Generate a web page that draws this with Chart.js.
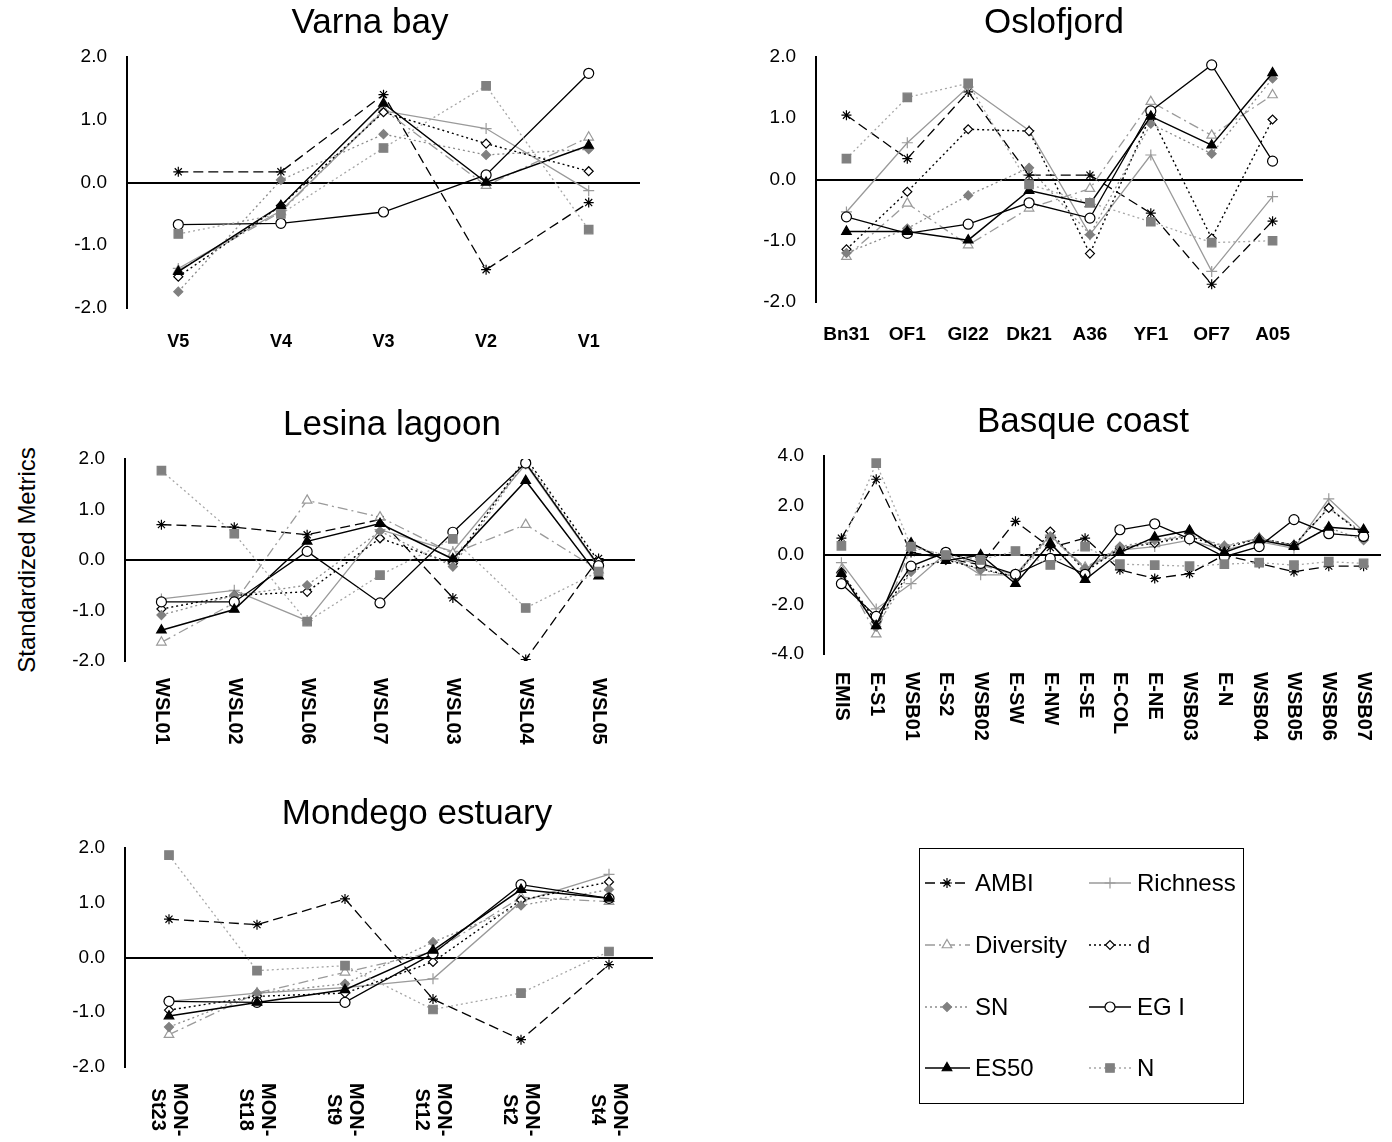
<!DOCTYPE html>
<html>
<head>
<meta charset="utf-8">
<script src="https://cdn.jsdelivr.net/npm/chart.js@4.4.1/dist/chart.umd.min.js"></script>
<style>
  body { margin: 0; width: 1392px; height: 1142px; overflow: hidden; background: #fff; position: relative; }
  canvas { position: absolute; }
  #ytitle {
    position: absolute; left: -122px; top: 545px; width: 300px; height: 30px; line-height: 30px;
    text-align: center; font: 24px "Liberation Sans", Arial, sans-serif; color: #000;
    transform: rotate(-90deg);
  }
</style>
</head>
<body>
<div id="ytitle">Standardized Metrics</div>
<canvas id="varna" width="660" height="360" style="left:40px;top:0px"></canvas>
<canvas id="oslo" width="618" height="360" style="left:745px;top:0px"></canvas>
<canvas id="lesina" width="704" height="370" style="left:40px;top:402px"></canvas>
<canvas id="basque" width="666" height="370" style="left:750px;top:399px"></canvas>
<canvas id="mondego" width="754" height="351" style="left:40px;top:791px"></canvas>
<canvas id="legend" width="330" height="262" style="left:917px;top:845px"></canvas>
<script>
const FONT = '"Liberation Sans", Arial, sans-serif';

// series in legend order
const seriesNames = ['AMBI', 'Richness', 'Diversity', 'd', 'SN', 'EG I', 'ES50', 'N'];

// Varna bay
const varnaStations = ['V5', 'V4', 'V3', 'V2', 'V1'];
const varnaAMBI = [0.17, 0.17, 1.40, -1.39, -0.32];
const varnaRichness = [-1.37, -0.45, 1.14, 0.86, -0.13];
const varnaDiversity = [-1.40, -0.47, 1.16, -0.05, 0.72];
const varnaD = [-1.50, -0.37, 1.12, 0.62, 0.18];
const varnaSN = [-1.74, 0.04, 0.77, 0.44, 0.53];
const varnaEGI = [-0.67, -0.65, -0.47, 0.12, 1.74];
const varnaES50 = [-1.42, -0.37, 1.26, 0.00, 0.59];
const varnaN = [-0.82, -0.50, 0.55, 1.54, -0.75];

// Oslofjord
const osloStations = ['Bn31', 'OF1', 'Gl22', 'Dk21', 'A36', 'YF1', 'OF7', 'A05'];
const osloAMBI = [1.05, 0.34, 1.43, 0.07, 0.07, -0.55, -1.71, -0.68];
const osloRichness = [-0.53, 0.60, 1.51, 0.80, -0.90, 0.40, -1.50, -0.28];
const osloDiversity = [-1.26, -0.39, -1.07, -0.47, -0.15, 1.27, 0.72, 1.38];
const osloD = [-1.14, -0.20, 0.82, 0.79, -1.21, 1.05, -0.96, 0.98];
const osloSN = [-1.20, -0.80, -0.26, 0.19, -0.90, 0.91, 0.42, 1.65];
const osloEGI = [-0.61, -0.88, -0.73, -0.38, -0.63, 1.12, 1.87, 0.30];
const osloES50 = [-0.85, -0.85, -0.99, -0.18, -0.40, 1.03, 0.56, 1.74];
const osloN = [0.34, 1.34, 1.57, -0.08, -0.38, -0.69, -1.03, -1.00];

// Lesina lagoon
const lesinaStations = ['WSL01', 'WSL02', 'WSL06', 'WSL07', 'WSL03', 'WSL04', 'WSL05'];
const lesinaAMBI = [0.70, 0.65, 0.50, 0.80, -0.75, -1.97, 0.03];
const lesinaRichness = [-0.77, -0.60, -1.20, 0.60, 0.17, 1.90, -0.13];
const lesinaDiversity = [-1.63, -0.85, 1.18, 0.85, 0.13, 0.70, -0.20];
const lesinaD = [-0.97, -0.70, -0.63, 0.43, -0.07, 2.03, -0.03];
const lesinaSN = [-1.09, -0.70, -0.50, 0.57, -0.13, 1.97, -0.10];
const lesinaEGI = [-0.83, -0.83, 0.17, -0.85, 0.55, 1.92, -0.11];
const lesinaES50 = [-1.39, -0.98, 0.37, 0.72, 0.02, 1.57, -0.32];
const lesinaN = [1.77, 0.52, -1.22, -0.30, 0.42, -0.95, -0.23];

// Basque coast
const basqueStations = ['EMIS', 'E-S1', 'WSB01', 'E-S2', 'WSB02', 'E-SW', 'E-NW', 'E-SE',
  'E-COL', 'E-NE', 'WSB03', 'E-N', 'WSB04', 'WSB05', 'WSB06', 'WSB07'];
const basqueAMBI = [0.68, 3.06, 0.10, -0.13, -0.40, 1.36, 0.30, 0.68, -0.60, -0.95, -0.75, 0.00, -0.34, -0.68, -0.45, -0.45];
const basqueRichness = [-0.31, -2.18, -1.16, 0.07, -0.80, -0.80, 0.80, -0.55, 0.20, 0.34, 0.60, 0.20, 0.54, 0.27, 2.27, 0.95];
const basqueDiversity = [-0.60, -3.20, 0.30, 0.00, -0.40, -0.80, 0.80, -0.50, 0.27, 0.54, 0.80, 0.34, 0.68, 0.40, 1.90, 0.88];
const basqueD = [-0.70, -2.70, -0.60, -0.20, -0.55, -0.88, 0.95, -0.68, 0.27, 0.48, 0.75, 0.27, 0.68, 0.40, 1.90, 0.80];
const basqueSN = [-0.75, -2.90, -0.68, -0.14, -0.60, -0.88, 0.75, -0.55, 0.34, 0.60, 0.80, 0.37, 0.68, 0.37, 1.10, 0.60];
const basqueEGI = [-1.16, -2.48, -0.45, 0.11, -0.34, -0.78, -0.14, -0.78, 1.02, 1.26, 0.65, -0.07, 0.34, 1.43, 0.86, 0.75];
const basqueES50 = [-0.75, -2.86, 0.48, -0.23, 0.00, -1.16, 0.48, -1.00, 0.11, 0.72, 0.99, 0.10, 0.61, 0.34, 1.12, 1.02];
const basqueN = [0.37, 3.71, 0.34, 0.00, -0.20, 0.16, -0.40, 0.34, -0.37, -0.41, -0.45, -0.37, -0.31, -0.41, -0.27, -0.34];

// Mondego estuary
const mondegoStations = [['MON-', 'St23'], ['MON-', 'St18'], ['MON-', 'St9'], ['MON-', 'St12'], ['MON-', 'St2'], ['MON-', 'St4']];
const mondegoAMBI = [0.70, 0.60, 1.07, -0.76, -1.50, -0.13];
const mondegoRichness = [-0.80, -0.65, -0.55, -0.39, 1.02, 1.52];
const mondegoDiversity = [-1.41, -0.65, -0.27, 0.10, 1.10, 1.02];
const mondegoD = [-0.96, -0.71, -0.65, -0.08, 1.05, 1.38];
const mondegoSN = [-1.27, -0.65, -0.48, 0.28, 0.95, 1.24];
const mondegoEGI = [-0.80, -0.82, -0.82, 0.07, 1.33, 1.08];
const mondegoES50 = [-1.07, -0.82, -0.59, 0.13, 1.24, 1.08];
const mondegoN = [1.87, -0.24, -0.15, -0.95, -0.65, 0.11];

// line / marker look of each series (same order as seriesNames)
const seriesStyles = [
  { color: '#000000', dash: [10, 5], point: 'star', radius: 5, fill: '#000000', width: 1.3 },
  { color: '#9a9a9a', dash: [], point: 'cross', radius: 5.5, fill: '#9a9a9a', width: 1.3 },
  { color: '#9a9a9a', dash: [10, 4, 2, 4], point: 'triangle', radius: 5.5, fill: '#ffffff', width: 1.3 },
  { color: '#000000', dash: [2, 3], point: 'rectRot', radius: 4.5, fill: '#ffffff', width: 1.4 },
  { color: '#8c8c8c', dash: [2, 3], point: 'rectRot', radius: 4.5, fill: '#808080', pointColor: '#808080', width: 1.3 },
  { color: '#000000', dash: [], point: 'circle', radius: 5, fill: '#ffffff', width: 1.3 },
  { color: '#000000', dash: [], point: 'triangle', radius: 5.5, fill: '#000000', width: 1.5 },
  { color: '#a6a6a6', dash: [2, 3], point: 'rect', radius: 6, fill: '#808080', pointColor: '#808080', width: 1.3 }
];

const stationLabels = {
  id: 'stationLabels',
  afterDraw(chart, args, opts) {
    const { ctx, chartArea } = chart;
    const xs = chart.scales.x;
    ctx.save();
    ctx.fillStyle = '#000';
    ctx.font = 'bold ' + opts.size + 'px ' + FONT;
    ctx.textAlign = 'center';
    ctx.textBaseline = 'middle';
    chart.data.labels.forEach((lab, i) => {
      const px = xs.getPixelForValue(i);
      const lines = [].concat(lab);
      if (!opts.rotate) {
        ctx.fillText(lines[0], px, chartArea.bottom + opts.gap);
      } else {
        const w = Math.max(...lines.map(l => ctx.measureText(l).width));
        ctx.save();
        ctx.translate(px, chartArea.bottom + opts.gap);
        ctx.rotate(Math.PI / 2);
        lines.forEach((l, j) => ctx.fillText(l, w / 2, (j - (lines.length - 1) / 2) * opts.lineHeight));
        ctx.restore();
      }
    });
    ctx.restore();
  }
};

function makeDatasets(values) {
  return seriesNames.map((name, i) => {
    const s = seriesStyles[i];
    return {
      label: name,
      data: values[i],
      borderColor: s.color,
      borderWidth: s.width,
      borderDash: s.dash,
      pointStyle: s.point,
      pointRadius: s.radius,
      pointBackgroundColor: s.fill,
      pointBorderColor: s.pointColor || s.color,
      pointBorderWidth: 1.2,
      tension: 0,
      order: seriesNames.length - i
    };
  });
}

function makeChart(id, title, labels, values, cfg) {
  new Chart(document.getElementById(id), {
    type: 'line',
    data: { labels: labels, datasets: makeDatasets(values) },
    options: {
      responsive: false,
      animation: false,
      devicePixelRatio: 1,
      layout: { padding: 0 },
      plugins: {
        legend: { display: false },
        tooltip: { enabled: false },
        title: {
          display: true, text: title, color: '#000',
          font: { family: FONT, size: 35, weight: 'normal' },
          padding: { top: 2, bottom: 13 }
        },
        stationLabels: cfg.labels
      },
      scales: {
        x: {
          offset: true,
          grid: { display: false },
          border: { display: false },
          ticks: { display: false },
          afterFit: s => { s.height = cfg.xHeight; }
        },
        y: {
          min: cfg.min, max: cfg.max,
          ticks: {
            stepSize: cfg.step, color: '#000', padding: 20,
            font: { family: FONT, size: 19 },
            callback: v => v.toFixed(1)
          },
          grid: {
            drawTicks: false,
            color: c => (c.tick && c.tick.value === 0) ? '#000' : 'rgba(0,0,0,0)',
            lineWidth: 2
          },
          border: { display: true, color: '#000', width: 2 },
          afterFit: s => { s.width = cfg.yWidth; }
        },
        // empty spacer on the right so the title stays centred on the whole panel
        spacer: {
          type: 'linear', position: 'right', display: true,
          grid: { display: false }, border: { display: false }, ticks: { display: false },
          afterFit: s => { s.width = cfg.padRight; }
        }
      }
    },
    plugins: [stationLabels]
  });
}

makeChart('varna', 'Varna bay', varnaStations,
  [varnaAMBI, varnaRichness, varnaDiversity, varnaD, varnaSN, varnaEGI, varnaES50, varnaN],
  { min: -2, max: 2, step: 1, yWidth: 87, padRight: 60, xHeight: 52, labels: { rotate: false, size: 18, gap: 34 } });

makeChart('oslo', 'Oslofjord', osloStations,
  [osloAMBI, osloRichness, osloDiversity, osloD, osloSN, osloEGI, osloES50, osloN],
  { min: -2, max: 2, step: 1, yWidth: 71, padRight: 60, xHeight: 58, labels: { rotate: false, size: 19, gap: 33 } });

makeChart('lesina', 'Lesina lagoon', lesinaStations,
  [lesinaAMBI, lesinaRichness, lesinaDiversity, lesinaD, lesinaSN, lesinaEGI, lesinaES50, lesinaN],
  { min: -2, max: 2, step: 1, yWidth: 85, padRight: 109, xHeight: 111, labels: { rotate: true, size: 20, gap: 17, lineHeight: 22 } });

makeChart('basque', 'Basque coast', basqueStations,
  [basqueAMBI, basqueRichness, basqueDiversity, basqueD, basqueSN, basqueEGI, basqueES50, basqueN],
  { min: -4, max: 4, step: 2, yWidth: 74, padRight: 35, xHeight: 115, labels: { rotate: true, size: 20, gap: 18, lineHeight: 22 } });

makeChart('mondego', 'Mondego estuary', mondegoStations,
  [mondegoAMBI, mondegoRichness, mondegoDiversity, mondegoD, mondegoSN, mondegoEGI, mondegoES50, mondegoN],
  { min: -2, max: 2, step: 1, yWidth: 85, padRight: 141, xHeight: 75, labels: { rotate: true, size: 20, gap: 16, lineHeight: 22 } });

// legend box, two columns
(function drawLegend() {
  const ctx = document.getElementById('legend').getContext('2d');
  ctx.strokeStyle = '#000';
  ctx.lineWidth = 1;
  ctx.strokeRect(2.5, 3.5, 324, 255);
  const rows = [38, 100, 162, 223];
  const cols = [{ x0: 8, x1: 53, mx: 30, tx: 58 }, { x0: 172, x1: 214, mx: 193, tx: 220 }];
  ctx.font = '24px ' + FONT;
  ctx.textBaseline = 'middle';
  seriesNames.forEach((name, i) => {
    const s = seriesStyles[i];
    const c = cols[i % 2];
    const y = rows[Math.floor(i / 2)];
    ctx.save();
    ctx.strokeStyle = s.color;
    ctx.lineWidth = s.width;
    ctx.setLineDash(s.dash);
    ctx.beginPath();
    ctx.moveTo(c.x0, y);
    ctx.lineTo(c.x1, y);
    ctx.stroke();
    ctx.restore();
    ctx.save();
    ctx.strokeStyle = s.pointColor || s.color;
    ctx.fillStyle = s.fill;
    ctx.lineWidth = 1.2;
    if (Chart.helpers && Chart.helpers.drawPoint) {
      Chart.helpers.drawPoint(ctx, { pointStyle: s.point, radius: s.radius, rotation: 0, borderWidth: 1.2 }, c.mx, y);
    } else {
      ctx.beginPath();
      ctx.arc(c.mx, y, s.radius, 0, Math.PI * 2);
      ctx.fill();
      ctx.stroke();
    }
    ctx.restore();
    ctx.fillStyle = '#000';
    ctx.fillText(name, c.tx, y + 1);
  });
})();
</script>
</body>
</html>
